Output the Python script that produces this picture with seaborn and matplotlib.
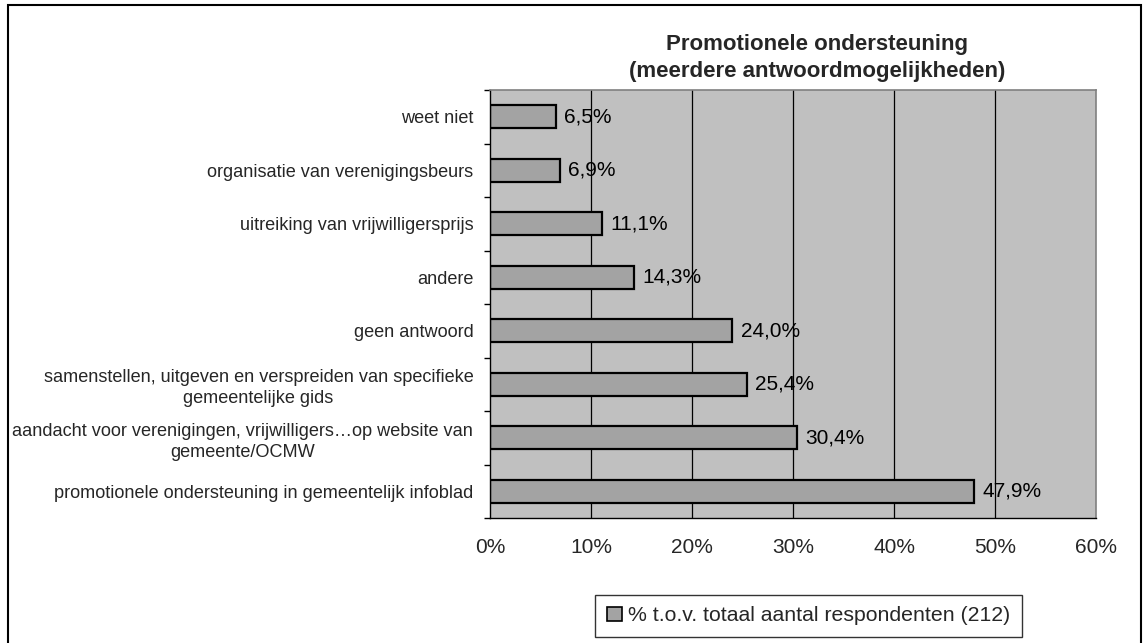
import matplotlib
matplotlib.use("Agg")
import matplotlib.pyplot as plt
from matplotlib.patches import Rectangle, Patch
import seaborn as sns
import pandas as pd
import numpy as np

categories = [
    "weet niet",
    "organisatie van verenigingsbeurs",
    "uitreiking van vrijwilligersprijs",
    "andere",
    "geen antwoord",
    "samenstellen, uitgeven en verspreiden van specifieke\ngemeentelijke gids",
    "aandacht voor verenigingen, vrijwilligers…op website van\ngemeente/OCMW",
    "promotionele ondersteuning in gemeentelijk infoblad",
]
values = [6.5, 6.9, 11.1, 14.3, 24.0, 25.4, 30.4, 47.9]
x_ticks = [0, 10, 20, 30, 40, 50, 60]
series_name = "% t.o.v. totaal aantal respondenten (212)"
title = "Promotionele ondersteuning\n(meerdere antwoordmogelijkheden)"

sns.set_theme(style="white")
plt.rcParams["font.family"] = ["Liberation Sans", "DejaVu Sans"]

df = pd.DataFrame({"categorie": categories, "waarde": values})

fig = plt.figure(figsize=(11.43, 6.43), dpi=100)
ax = fig.add_axes([0.4287, 0.1944, 0.5302, 0.6656])
ax.set_facecolor("#c0c0c0")

bar_color = "#a3a3a3"
sns.barplot(data=df, y="categorie", x="waarde", order=categories, orient="h",
            color=bar_color, edgecolor="black", linewidth=1.6, width=0.43,
            saturation=1, ax=ax)

ax.set_xlim(0, 60)
ax.set_ylim(len(categories) - 0.5, -0.5)
ax.set_xticks(x_ticks)
ax.set_xticklabels([f"{t}%" for t in x_ticks], fontsize=15)
ax.tick_params(axis="x", length=4.5, width=1, color="black", pad=10, direction="out")

# category ticks sit between the bars
ax.set_yticks(range(len(categories)))
ax.set_yticklabels(categories, fontsize=13.1, linespacing=1.3)
ax.tick_params(axis="y", which="major", length=0, pad=12)
ax.set_yticks(np.arange(-0.5, len(categories)), minor=True)
ax.tick_params(axis="y", which="minor", length=4.5, width=1, color="black",
               direction="out", left=True)
for lbl in ax.get_yticklabels():
    lbl.set_horizontalalignment("right")
    lbl.set_multialignment("center")

ax.set_xlabel("")
ax.set_ylabel("")

for x in x_ticks[1:-1]:
    ax.axvline(x, color="black", linewidth=0.9, zorder=0.5)

for side in ["top", "right"]:
    ax.spines[side].set_color("#808080")
    ax.spines[side].set_linewidth(1.2)
ax.spines["left"].set_color("black")
ax.spines["bottom"].set_color("black")
ax.spines["left"].set_linewidth(1)
ax.spines["bottom"].set_linewidth(1)

for i, v in enumerate(values):
    ax.annotate(f"{v:.1f}%".replace(".", ","), xy=(v, i), xytext=(6, 0),
                textcoords="offset points", va="center", ha="left",
                fontsize=15, color="black")

fig.text(0.7148, 0.9098, title, ha="center", va="center", fontsize=16,
         fontweight="bold", linespacing=1.4)

handle = Patch(facecolor=bar_color, edgecolor="black", linewidth=1.2)
leg = fig.legend([handle], [series_name], loc="center",
                 bbox_to_anchor=(0.7074, 0.042), frameon=True, fancybox=False,
                 fontsize=15.3, handlelength=0.7, handleheight=0.7,
                 handletextpad=0.3, borderpad=0.55, borderaxespad=0)
leg.get_frame().set_edgecolor("black")
leg.get_frame().set_linewidth(1)

fig.patches.append(Rectangle((0.0066, -0.02), 0.9917, 1.0122, transform=fig.transFigure,
                             fill=False, edgecolor="black", linewidth=1.5))

fig.savefig("out.png", dpi=100, facecolor="white")
